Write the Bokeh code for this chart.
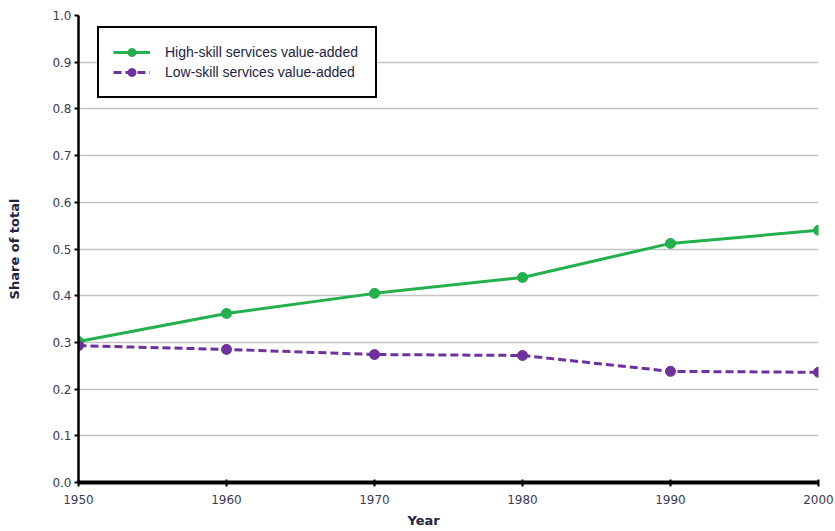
from bokeh.plotting import figure
from bokeh.models import Range1d, Legend, LegendItem, FixedTicker, NumeralTickFormatter, Title
from bokeh.embed import file_html
from bokeh.resources import INLINE

years = [1950, 1960, 1970, 1980, 1990, 2000]
high_skill = [0.302, 0.362, 0.405, 0.439, 0.512, 0.540]
low_skill = [0.293, 0.285, 0.274, 0.272, 0.238, 0.236]
x_ticks = [1950, 1960, 1970, 1980, 1990, 2000]
y_ticks = [0.0, 0.1, 0.2, 0.3, 0.4, 0.5, 0.6, 0.7, 0.8, 0.9, 1.0]
grid_ticks = [0.1, 0.2, 0.3, 0.4, 0.5, 0.6, 0.7, 0.8, 0.9]

GREEN = "#22b14c"
PURPLE = "#7030a0"
FONT = "Liberation Sans"
TICKFONT = "DejaVu Sans"

p = figure(width=835, height=531, output_backend="svg", toolbar_location=None,
           x_range=Range1d(1950, 2000), y_range=Range1d(0, 1),
           min_border_left=78, min_border_right=17, min_border_top=15, min_border_bottom=49)
p.outline_line_color = None
p.xgrid.grid_line_color = None
p.ygrid.ticker = FixedTicker(ticks=grid_ticks)
p.ygrid.grid_line_color = "#c4c4c4"
p.ygrid.grid_line_width = 1.5

p.xaxis.ticker = FixedTicker(ticks=x_ticks)
p.yaxis.ticker = FixedTicker(ticks=y_ticks)
p.yaxis.formatter = NumeralTickFormatter(format="0.0")
p.xaxis.formatter = NumeralTickFormatter(format="0")

for ax in (p.xaxis, p.yaxis):
    ax.axis_line_color = "black"
    ax.major_tick_line_color = "black"
    ax.major_tick_line_width = 2
    ax.minor_tick_line_color = None
    ax.major_label_text_font = TICKFONT
    ax.major_label_text_font_size = "12px"
    ax.major_label_text_color = "#3a3a5a"
    ax.axis_label_text_font = FONT
    ax.axis_label_text_color = "#222244"
p.xaxis.axis_line_width = 4
p.yaxis.axis_line_width = 2.5
p.xaxis.major_tick_in = 3
p.xaxis.major_tick_out = 4
p.yaxis.major_tick_in = 0
p.yaxis.major_tick_out = 4
p.xaxis.major_label_standoff = 8
p.yaxis.major_label_standoff = 3
p.yaxis.axis_label = "Share of total"
p.yaxis.axis_label_text_font = TICKFONT
p.yaxis.axis_label_text_font_style = "bold"
p.yaxis.axis_label_text_font_size = "13px"
p.yaxis.axis_label_standoff = 27

xtitle = Title(text="Year", align="left", offset=329, text_font=TICKFONT,
               text_font_size="13px", text_font_style="bold", text_color="#222244",
               standoff=8)
p.add_layout(xtitle, "below")

hl = p.line(years, high_skill, line_color=GREEN, line_width=3)
hs = p.scatter(years, high_skill, size=10, fill_color=GREEN, line_color=GREEN)
ll = p.line(years, low_skill, line_color=PURPLE, line_width=3, line_dash="8 4")
ls = p.scatter(years, low_skill, size=10, fill_color=PURPLE, line_color=PURPLE)

legend = Legend(items=[
    LegendItem(label="High-skill services value-added", renderers=[hl, hs]),
    LegendItem(label="Low-skill services value-added", renderers=[ll, ls]),
], location=(19, 384))
legend.border_line_color = "black"
legend.border_line_alpha = 1
legend.border_line_width = 2.5
legend.background_fill_color = "white"
legend.background_fill_alpha = 1
legend.padding = 14
legend.spacing = 0
legend.margin = 0
legend.glyph_width = 37
legend.glyph_height = 20
legend.label_height = 20
legend.label_standoff = 15
legend.label_width = 196
legend.label_text_font = FONT
legend.label_text_font_size = "14px"
legend.label_text_color = "#222244"
p.add_layout(legend, "center")

open("out.html", "w").write(file_html(p, INLINE))
